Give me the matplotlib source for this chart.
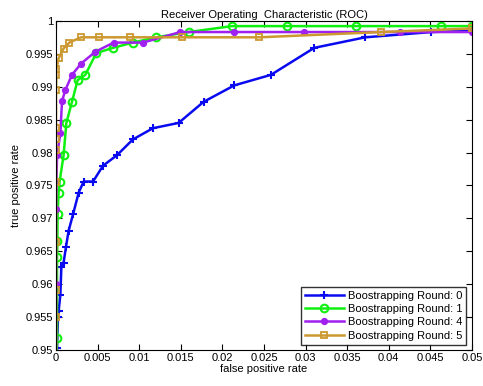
import matplotlib
matplotlib.use('Agg')
import matplotlib.pyplot as plt
import numpy as np

plt.rcParams['font.family'] = ['Liberation Sans', 'DejaVu Sans']

# Round 0
fpr0 = [0.0, 0.00012, 0.00024, 0.00031, 0.00052, 0.00064, 0.00091, 0.00120, 0.00151,
        0.00204, 0.00272, 0.00332, 0.00445, 0.00565, 0.00733, 0.00925, 0.01166,
        0.01474, 0.01774, 0.02143, 0.02584, 0.03105, 0.03718, 0.04511, 0.05]
tpr0 = [0.945, 0.9503, 0.9551, 0.9559, 0.9584, 0.9626, 0.9633, 0.9657, 0.9681,
        0.9706, 0.9739, 0.9756, 0.9756, 0.9780, 0.9796, 0.9820, 0.9837,
        0.9845, 0.9877, 0.9902, 0.9918, 0.9959, 0.9975, 0.9983, 0.9985]
# Round 1
fpr1 = [0.0, 0.00012, 0.00012, 0.00016, 0.00019, 0.00031, 0.00043, 0.00091, 0.00124,
        0.00192, 0.00260, 0.00352, 0.00484, 0.00685, 0.00925, 0.01206, 0.01594,
        0.02115, 0.02776, 0.03606, 0.04631, 0.05]
tpr1 = [0.945, 0.9519, 0.9642, 0.9665, 0.9706, 0.9739, 0.9756, 0.9796, 0.9845,
        0.9877, 0.9910, 0.9918, 0.9951, 0.9959, 0.9967, 0.9975, 0.9983,
        0.9992, 0.9992, 0.9992, 0.9992, 0.9992]
# Round 4
fpr4 = [0.0, 0.0, 0.0, 0.00012, 0.00052, 0.00072, 0.00112, 0.00192, 0.00300, 0.00472,
        0.00692, 0.01046, 0.01494, 0.02143, 0.02976, 0.04138, 0.05]
tpr4 = [0.945, 0.9601, 0.9715, 0.9796, 0.9829, 0.9878, 0.9895, 0.9918, 0.9935, 0.9953,
        0.9967, 0.9967, 0.9983, 0.9983, 0.9983, 0.9983, 0.9983]
# Round 5
fpr5 = [0.0, 0.0, 0.0, 0.0, 0.0, 0.0, 0.0, 0.0, 0.0, 0.00004, 0.00004, 0.00031,
        0.00091, 0.0016, 0.003, 0.00512, 0.00885, 0.01514, 0.02444, 0.03906, 0.05]
tpr5 = [0.945, 0.9551, 0.9592, 0.9664, 0.9756, 0.9804, 0.9820, 0.9837, 0.9895, 0.9918,
        0.9927, 0.9943, 0.9958, 0.9967, 0.9975, 0.9975, 0.9975, 0.9975, 0.9975,
        0.9983, 0.99885]

fig = plt.figure(figsize=(4.83, 3.86), dpi=100)
ax = fig.add_axes([0.116, 0.093, 0.861, 0.853])

ax.plot(fpr0, tpr0, color='#0a0af0', lw=1.8, marker='+', ms=5.5, mew=1.5,
        label='Boostrapping Round: 0')
ax.plot(fpr1, tpr1, color='#10f010', lw=1.8, marker='o', ms=5.5, mew=1.5,
        mfc='none', label='Boostrapping Round: 1')
ax.plot(fpr4, tpr4, color='#a020f0', lw=1.8, marker='o', ms=4.2,
        label='Boostrapping Round: 4')
ax.plot(fpr5, tpr5, color='#cc9930', lw=1.8, marker='s', ms=4.5, mew=1.3,
        mfc='none', label='Boostrapping Round: 5')

ax.set_xlim(0, 0.05)
ax.set_ylim(0.95, 1)
xt = np.arange(0, 0.0501, 0.005)
yt = np.arange(0.95, 1.0001, 0.005)
ax.set_xticks(xt)
ax.set_xticklabels(['%g' % round(v, 3) for v in xt])
ax.set_yticks(yt)
ax.set_yticklabels(['%g' % round(v, 3) for v in yt])
ax.tick_params(direction='in', top=True, right=True, labelsize=8, length=4, pad=2)

ax.set_title('Receiver Operating  Characteristic (ROC)', fontsize=8, pad=2)
ax.set_xlabel('false positive rate', fontsize=8, labelpad=1)
ax.set_ylabel('true positive rate', fontsize=8, labelpad=3)

leg = ax.legend(loc='lower right', fontsize=8, frameon=True, fancybox=False,
                edgecolor='black', borderpad=0.35, labelspacing=0.3,
                handlelength=3.5, handletextpad=0.4, borderaxespad=0.5)
leg.get_frame().set_linewidth(1.0)

fig.savefig('out.png', dpi=100)
